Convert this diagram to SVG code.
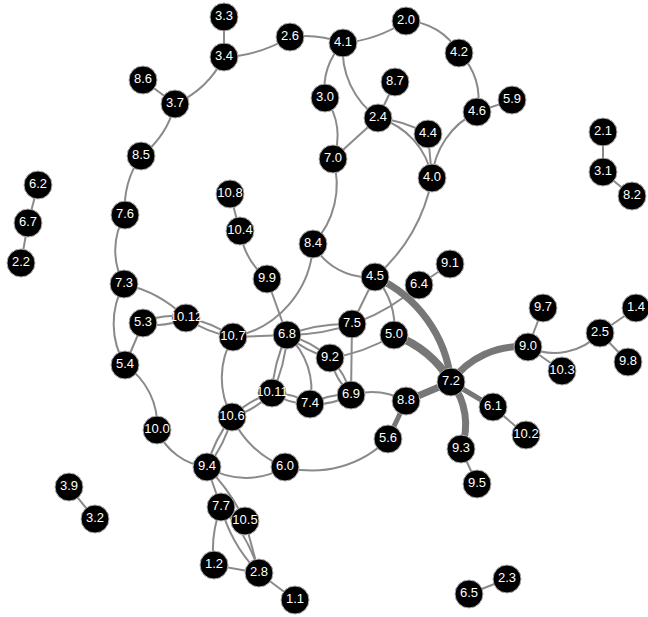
<svg xmlns="http://www.w3.org/2000/svg" width="648" height="617" viewBox="0 0 648 617">
<style>
.l{fill:none;stroke:#8a8a8a;stroke-width:2}
.t{fill:none;stroke:#777;stroke-width:7}
.m{fill:none;stroke:#777;stroke-width:5}
.n circle{fill:#000;stroke:#b0b0b0;stroke-width:1}
.n text{fill:#fff;font-family:"Liberation Sans",Arial,sans-serif;font-size:13px;text-anchor:middle}
</style>
<rect width="648" height="617" fill="#fff"/>
<g id="connectors">
<path class="l" d="M224 17L224 57"/>
<path class="l" d="M477 112L512 100"/>
<path class="l" d="M175 104L143 80"/>
<path class="l" d="M378 118L395 82"/>
<path class="l" d="M378 118L333 159"/>
<path class="l" d="M428 134L432 178"/>
<path class="l" d="M143 323L125 365"/>
<path class="l" d="M230 194L240 231"/>
<path class="l" d="M267 279L287 335"/>
<path class="l" d="M375 277L352 324"/>
<path class="l" d="M419 285L450 264"/>
<path class="l" d="M352 324L351 395"/>
<path class="l" d="M233 337L287 335"/>
<path class="l" d="M207 467L221 507"/>
<path class="l" d="M245 521L259 573"/>
<path class="l" d="M214 565L259 573"/>
<path class="l" d="M259 573L295 600"/>
<path class="l" d="M528 347L543 308"/>
<path class="l" d="M528 347L562 371"/>
<path class="l" d="M600 333L636 308"/>
<path class="l" d="M600 333L628 362"/>
<path class="l" d="M493 407L526 435"/>
<path class="l" d="M461 449L477 484"/>
<path class="l" d="M69 487L95 519"/>
<path class="l" d="M469 594L507 579"/>
<path class="l" d="M603 132L603 172"/>
<path class="l" d="M603 172L632 196"/>
<path class="l" d="M38 185L28 223"/>
<path class="l" d="M28 223L21 263"/>
<path class="l" d="M224 57A138 138 0 0 0 290 37"/>
<path class="l" d="M290 37A106 106 0 0 1 343 43"/>
<path class="l" d="M343 43A134 134 0 0 0 406 21"/>
<path class="l" d="M406 21A62 62 0 0 1 459 53"/>
<path class="l" d="M459 53A62 62 0 0 1 477 112"/>
<path class="l" d="M477 112A80 80 0 0 0 432 178"/>
<path class="l" d="M224 57A100 100 0 0 1 175 104"/>
<path class="l" d="M175 104A93 93 0 0 1 141 156"/>
<path class="l" d="M141 156A92 92 0 0 0 125 215"/>
<path class="l" d="M125 215A69 69 0 0 0 124 284"/>
<path class="l" d="M124 284A81 81 0 0 0 125 365"/>
<path class="l" d="M124 284A128 128 0 0 1 186 318"/>
<path class="l" d="M125 365A72 72 0 0 1 157 430"/>
<path class="l" d="M157 430A62 62 0 0 0 207 467"/>
<path class="l" d="M343 43A65 65 0 0 0 325 98"/>
<path class="l" d="M325 98A62 62 0 0 1 333 159"/>
<path class="l" d="M343 43A83 83 0 0 0 378 118"/>
<path class="l" d="M378 118A130 130 0 0 1 428 134"/>
<path class="l" d="M378 118A75 75 0 0 1 432 178"/>
<path class="l" d="M333 159A87 87 0 0 1 313 244"/>
<path class="l" d="M313 244A99 99 0 0 1 233 337"/>
<path class="l" d="M313 244A63 63 0 0 0 375 277"/>
<path class="l" d="M432 178A170 170 0 0 1 375 277"/>
<path class="l" d="M240 231A77 77 0 0 0 267 279"/>
<path class="l" d="M375 277A73 73 0 0 1 394 335"/>
<path class="l" d="M287 335A165 165 0 0 1 352 324"/>
<path class="l" d="M287 335A198 198 0 0 0 419 285"/>
<path class="l" d="M330 358A170 170 0 0 0 394 335"/>
<path class="l" d="M351 395A72 72 0 0 1 406 401"/>
<path class="l" d="M388 439A107 107 0 0 1 285 467"/>
<path class="l" d="M528 347A62 62 0 0 0 600 333"/>
<path class="l" d="M233 337A80 80 0 0 0 232 417"/>
<path class="l" d="M287 335A73 73 0 0 1 310 404"/>
<path class="l" d="M232 417A95 95 0 0 0 285 467"/>
<path class="l" d="M207 467A75 75 0 0 0 285 467"/>
<path class="l" d="M207 467A200 200 0 0 1 245 521"/>
<path class="l" d="M221 507A116 116 0 0 0 214 565"/>
<path class="l" d="M143 323Q165 328.5 186 318"/>
<path class="l" d="M143 323Q164 312.5 186 318"/>
<path class="l" d="M186 318Q207.3 333 233 337"/>
<path class="l" d="M186 318Q211.7 322 233 337"/>
<path class="l" d="M287 335Q305.7 351.8 330 358"/>
<path class="l" d="M287 335Q311.3 341.2 330 358"/>
<path class="l" d="M330 358Q335.3 379.5 351 395"/>
<path class="l" d="M330 358Q345.7 373.5 351 395"/>
<path class="l" d="M287 335Q273.7 362.5 272 393"/>
<path class="l" d="M287 335Q285.3 365.5 272 393"/>
<path class="l" d="M272 393Q289.3 404.3 310 404"/>
<path class="l" d="M272 393Q292.7 392.7 310 404"/>
<path class="l" d="M310 404Q331.8 405.4 351 395"/>
<path class="l" d="M310 404Q329.2 393.6 351 395"/>
<path class="l" d="M272 393Q248.9 399.9 232 417"/>
<path class="l" d="M272 393Q255.1 410.1 232 417"/>
<path class="l" d="M232 417Q214.1 439.3 207 467"/>
<path class="l" d="M232 417Q224.9 444.7 207 467"/>
<path class="l" d="M221 507Q231.3 545 259 573"/>
<path class="l" d="M221 507Q248.7 535 259 573"/>
<path class="t" d="M375 277A130 130 0 0 1 451 382"/>
<path class="t" d="M394 335A111 111 0 0 1 451 382" style="stroke-width:8"/>
<path class="t" d="M451 382A85 85 0 0 1 528 347"/>
<path class="t" d="M451 382A68 68 0 0 1 461 449"/>
<path class="t" d="M406 401L451 382"/>
<path class="m" d="M388 439L406 401"/>
<path class="m" d="M451 382L493 407"/>
</g>
<g id="n3_3" class="n"><circle cx="224" cy="17" r="14"/><text x="224" y="20">3.3</text></g>
<g id="n3_4" class="n"><circle cx="224" cy="57" r="14"/><text x="224" y="60">3.4</text></g>
<g id="n2_6" class="n"><circle cx="290" cy="37" r="14"/><text x="290" y="40">2.6</text></g>
<g id="n4_1" class="n"><circle cx="343" cy="43" r="14"/><text x="343" y="46">4.1</text></g>
<g id="n2_0" class="n"><circle cx="406" cy="21" r="14"/><text x="406" y="24">2.0</text></g>
<g id="n4_2" class="n"><circle cx="459" cy="53" r="14"/><text x="459" y="56">4.2</text></g>
<g id="n8_6" class="n"><circle cx="143" cy="80" r="14"/><text x="143" y="83">8.6</text></g>
<g id="n3_7" class="n"><circle cx="175" cy="104" r="14"/><text x="175" y="107">3.7</text></g>
<g id="n8_7" class="n"><circle cx="395" cy="82" r="14"/><text x="395" y="85">8.7</text></g>
<g id="n3_0" class="n"><circle cx="325" cy="98" r="14"/><text x="325" y="101">3.0</text></g>
<g id="n2_4" class="n"><circle cx="378" cy="118" r="14"/><text x="378" y="121">2.4</text></g>
<g id="n4_4" class="n"><circle cx="428" cy="134" r="14"/><text x="428" y="137">4.4</text></g>
<g id="n4_6" class="n"><circle cx="477" cy="112" r="14"/><text x="477" y="115">4.6</text></g>
<g id="n5_9" class="n"><circle cx="512" cy="100" r="14"/><text x="512" y="103">5.9</text></g>
<g id="n7_0" class="n"><circle cx="333" cy="159" r="14"/><text x="333" y="162">7.0</text></g>
<g id="n4_0" class="n"><circle cx="432" cy="178" r="14"/><text x="432" y="181">4.0</text></g>
<g id="n2_1" class="n"><circle cx="603" cy="132" r="14"/><text x="603" y="135">2.1</text></g>
<g id="n3_1" class="n"><circle cx="603" cy="172" r="14"/><text x="603" y="175">3.1</text></g>
<g id="n8_2" class="n"><circle cx="632" cy="196" r="14"/><text x="632" y="199">8.2</text></g>
<g id="n8_5" class="n"><circle cx="141" cy="156" r="14"/><text x="141" y="159">8.5</text></g>
<g id="n6_2" class="n"><circle cx="38" cy="185" r="14"/><text x="38" y="188">6.2</text></g>
<g id="n7_6" class="n"><circle cx="125" cy="215" r="14"/><text x="125" y="218">7.6</text></g>
<g id="n6_7" class="n"><circle cx="28" cy="223" r="14"/><text x="28" y="226">6.7</text></g>
<g id="n10_8" class="n"><circle cx="230" cy="194" r="14"/><text x="230" y="197">10.8</text></g>
<g id="n10_4" class="n"><circle cx="240" cy="231" r="14"/><text x="240" y="234">10.4</text></g>
<g id="n2_2" class="n"><circle cx="21" cy="263" r="14"/><text x="21" y="266">2.2</text></g>
<g id="n8_4" class="n"><circle cx="313" cy="244" r="14"/><text x="313" y="247">8.4</text></g>
<g id="n9_9" class="n"><circle cx="267" cy="279" r="14"/><text x="267" y="282">9.9</text></g>
<g id="n4_5" class="n"><circle cx="375" cy="277" r="14"/><text x="375" y="280">4.5</text></g>
<g id="n9_1" class="n"><circle cx="450" cy="264" r="14"/><text x="450" y="267">9.1</text></g>
<g id="n6_4" class="n"><circle cx="419" cy="285" r="14"/><text x="419" y="288">6.4</text></g>
<g id="n7_3" class="n"><circle cx="124" cy="284" r="14"/><text x="124" y="287">7.3</text></g>
<g id="n9_7" class="n"><circle cx="543" cy="308" r="14"/><text x="543" y="311">9.7</text></g>
<g id="n1_4" class="n"><circle cx="636" cy="308" r="14"/><text x="636" y="311">1.4</text></g>
<g id="n5_3" class="n"><circle cx="143" cy="323" r="14"/><text x="143" y="326">5.3</text></g>
<g id="n10_12" class="n"><circle cx="186" cy="318" r="14"/><text x="186" y="321">10.12</text></g>
<g id="n10_7" class="n"><circle cx="233" cy="337" r="14"/><text x="233" y="340">10.7</text></g>
<g id="n6_8" class="n"><circle cx="287" cy="335" r="14"/><text x="287" y="338">6.8</text></g>
<g id="n7_5" class="n"><circle cx="352" cy="324" r="14"/><text x="352" y="327">7.5</text></g>
<g id="n5_0" class="n"><circle cx="394" cy="335" r="14"/><text x="394" y="338">5.0</text></g>
<g id="n2_5" class="n"><circle cx="600" cy="333" r="14"/><text x="600" y="336">2.5</text></g>
<g id="n9_0" class="n"><circle cx="528" cy="347" r="14"/><text x="528" y="350">9.0</text></g>
<g id="n9_2" class="n"><circle cx="330" cy="358" r="14"/><text x="330" y="361">9.2</text></g>
<g id="n10_3" class="n"><circle cx="562" cy="371" r="14"/><text x="562" y="374">10.3</text></g>
<g id="n9_8" class="n"><circle cx="628" cy="362" r="14"/><text x="628" y="365">9.8</text></g>
<g id="n5_4" class="n"><circle cx="125" cy="365" r="14"/><text x="125" y="368">5.4</text></g>
<g id="n7_2" class="n"><circle cx="451" cy="382" r="14"/><text x="451" y="385">7.2</text></g>
<g id="n10_11" class="n"><circle cx="272" cy="393" r="14"/><text x="272" y="396">10.11</text></g>
<g id="n7_4" class="n"><circle cx="310" cy="404" r="14"/><text x="310" y="407">7.4</text></g>
<g id="n6_9" class="n"><circle cx="351" cy="395" r="14"/><text x="351" y="398">6.9</text></g>
<g id="n8_8" class="n"><circle cx="406" cy="401" r="14"/><text x="406" y="404">8.8</text></g>
<g id="n6_1" class="n"><circle cx="493" cy="407" r="14"/><text x="493" y="410">6.1</text></g>
<g id="n10_2" class="n"><circle cx="526" cy="435" r="14"/><text x="526" y="438">10.2</text></g>
<g id="n10_6" class="n"><circle cx="232" cy="417" r="14"/><text x="232" y="420">10.6</text></g>
<g id="n10_0" class="n"><circle cx="157" cy="430" r="14"/><text x="157" y="433">10.0</text></g>
<g id="n5_6" class="n"><circle cx="388" cy="439" r="14"/><text x="388" y="442">5.6</text></g>
<g id="n9_3" class="n"><circle cx="461" cy="449" r="14"/><text x="461" y="452">9.3</text></g>
<g id="n9_4" class="n"><circle cx="207" cy="467" r="14"/><text x="207" y="470">9.4</text></g>
<g id="n6_0" class="n"><circle cx="285" cy="467" r="14"/><text x="285" y="470">6.0</text></g>
<g id="n9_5" class="n"><circle cx="477" cy="484" r="14"/><text x="477" y="487">9.5</text></g>
<g id="n3_9" class="n"><circle cx="69" cy="487" r="14"/><text x="69" y="490">3.9</text></g>
<g id="n3_2" class="n"><circle cx="95" cy="519" r="14"/><text x="95" y="522">3.2</text></g>
<g id="n7_7" class="n"><circle cx="221" cy="507" r="14"/><text x="221" y="510">7.7</text></g>
<g id="n10_5" class="n"><circle cx="245" cy="521" r="14"/><text x="245" y="524">10.5</text></g>
<g id="n1_2" class="n"><circle cx="214" cy="565" r="14"/><text x="214" y="568">1.2</text></g>
<g id="n2_8" class="n"><circle cx="259" cy="573" r="14"/><text x="259" y="576">2.8</text></g>
<g id="n1_1" class="n"><circle cx="295" cy="600" r="14"/><text x="295" y="603">1.1</text></g>
<g id="n6_5" class="n"><circle cx="469" cy="594" r="14"/><text x="469" y="597">6.5</text></g>
<g id="n2_3" class="n"><circle cx="507" cy="579" r="14"/><text x="507" y="582">2.3</text></g>
</svg>
